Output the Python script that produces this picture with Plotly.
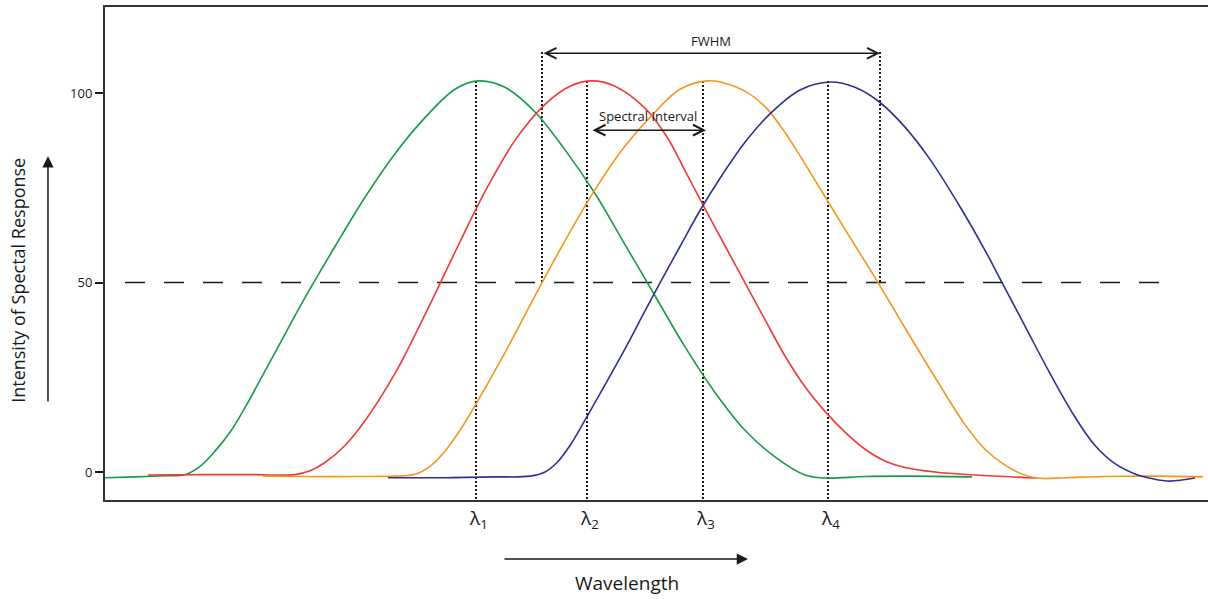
import plotly.graph_objects as go

# Spectral response curves (wavelength in arbitrary units, response in %)
green_x = [0, 30, 60, 80, 95, 110, 125, 140, 170, 200, 230, 260, 290, 320, 350, 373,
           400, 430, 460, 490, 520, 550, 580, 610, 640, 670, 700, 720, 760, 800, 867]
green_y = [-1.5, -1.3, -1.0, -0.7, 1.5, 5.5, 10.5, 17.0, 31.5, 46.0, 59.5, 72.5, 84.0, 93.5, 101.0, 103.2,
           101.5, 95.0, 85.0, 73.5, 60.0, 46.5, 33.0, 21.0, 11.0, 4.0, -0.8, -1.6, -1.2, -1.1, -1.3]

red_x = [43, 100, 150, 190, 205, 220, 240, 260, 290, 320, 350, 380, 410, 440, 465, 487,
         510, 540, 562, 580, 600, 620, 640, 660, 680, 700, 720, 740, 760, 780, 800, 830, 870, 932]
red_y = [-0.8, -0.7, -0.7, -0.7, 0.3, 2.5, 7.0, 13.5, 26.0, 41.5, 58.0, 74.0, 87.5, 97.0, 101.8, 103.2,
         101.8, 96.0, 88.4, 79.5, 69.5, 59.7, 49.9, 40.2, 30.6, 22.5, 16.0, 10.5, 6.0, 2.9, 1.2, 0.0, -0.8, -1.6]

orange_x = [158, 200, 250, 290, 310, 325, 340, 355, 370, 400, 430, 460, 490, 520, 550, 575, 602,
            620, 640, 660, 680, 700, 740, 770, 800, 830, 860, 880, 900, 915, 932, 960, 1000, 1048, 1098]
orange_y = [-1.1, -1.2, -1.2, -1.1, -0.6, 1.5, 5.5, 11.0, 17.5, 31.5, 46.5, 61.0, 74.5, 86.0, 95.0, 101.0, 103.2,
            102.6, 100.5, 96.4, 89.6, 81.3, 64.0, 51.3, 38.0, 25.0, 12.5, 6.0, 1.8, -0.3, -1.6, -1.5, -1.2, -1.1, -1.3]

blue_x = [283, 340, 390, 425, 440, 452, 465, 480, 500, 520, 540, 555, 575, 595, 615, 640, 665, 695, 725,
          750, 775, 800, 825, 855, 880, 897, 920, 945, 970, 990, 1010, 1030, 1048, 1065, 1090]
blue_y = [-1.5, -1.5, -1.3, -1.1, 0.0, 2.5, 7.0, 13.7, 23.0, 32.5, 42.5, 49.9, 59.5, 69.0, 77.5, 87.0, 94.5, 100.8, 102.9,
          101.5, 97.5, 91.0, 82.5, 70.0, 58.5, 50.0, 38.5, 26.0, 14.5, 7.0, 2.2, -0.5, -1.8, -2.4, -1.6]

# Peak wavelengths and their labels
peak_x = [371, 482, 598, 723]
peak_y = 103.2
peak_labels = ["λ<sub>1</sub>", "λ<sub>2</sub>", "λ<sub>3</sub>", "λ<sub>4</sub>"]

# Half-maximum level and the FWHM edges of the third band
half_level = 50
half_line_x = [20, 1070]
fwhm_x = [437, 775]

y_ticks = [0, 50, 100]
y_tick_text = ["0", "50", "100"]

X_RANGE = [0, 1103]
Y_RANGE = [-7.39, 122.7]
FONT = "Open Sans"
INK = "#1a1a1a"

fig = go.Figure()

# half-maximum dashed line
fig.add_trace(go.Scatter(x=half_line_x, y=[half_level, half_level], mode="lines",
                         line=dict(color=INK, width=1.5, dash="20px,19px"),
                         hoverinfo="skip", showlegend=False))

dotted = dict(color=INK, width=2, dash="2px,2px")

# dotted verticals at each peak
for px in peak_x:
    fig.add_trace(go.Scatter(x=[px, px], y=[peak_y, Y_RANGE[0]], mode="lines", line=dotted,
                             hoverinfo="skip", showlegend=False))

# dotted FWHM edges
for fx in fwhm_x:
    fig.add_trace(go.Scatter(x=[fx, fx], y=[110.8, half_level], mode="lines", line=dotted,
                             hoverinfo="skip", showlegend=False))

curves = [
    (green_x, green_y, "#179a48"),
    (red_x, red_y, "#ee3b35"),
    (orange_x, orange_y, "#f7941d"),
    (blue_x, blue_y, "#2e3192"),
]
for cx, cy, col in curves:
    fig.add_trace(go.Scatter(x=cx, y=cy, mode="lines",
                             line=dict(color=col, width=1.6, shape="spline", smoothing=1.0),
                             hoverinfo="skip", showlegend=False))

annotations = []

# peak labels under the axis
for px, lab in zip(peak_x, peak_labels):
    annotations.append(dict(x=px + 2, y=-0.0385, xref="x", yref="paper", text=lab, showarrow=False,
                            xanchor="center", yanchor="middle",
                            font=dict(family=FONT, size=19, color=INK)))

# FWHM double arrow and label
annotations.append(dict(x=fwhm_x[1], y=110.5, ax=fwhm_x[0], ay=110.5, xref="x", yref="y",
                        axref="x", ayref="y", text="", showarrow=True, arrowside="end+start",
                        arrowhead=5, startarrowhead=5, arrowsize=1.4, startarrowsize=1.4,
                        arrowwidth=1.5, arrowcolor=INK))
annotations.append(dict(x=(fwhm_x[0] + fwhm_x[1]) / 2, y=113.6, xref="x", yref="y", text="FWHM",
                        showarrow=False, xanchor="center", yanchor="middle",
                        font=dict(family=FONT, size=13, color=INK)))

# Spectral interval double arrow and label
annotations.append(dict(x=peak_x[2] + 3, y=90.2, ax=peak_x[1] + 4, ay=90.2, xref="x", yref="y",
                        axref="x", ayref="y", text="", showarrow=True, arrowside="end+start",
                        arrowhead=5, startarrowhead=5, arrowsize=1.4, startarrowsize=1.4,
                        arrowwidth=1.5, arrowcolor=INK))
annotations.append(dict(x=543, y=93.9, xref="x", yref="y", text="Spectral Interval",
                        showarrow=False, xanchor="center", yanchor="middle",
                        font=dict(family=FONT, size=13, color=INK)))

# Wavelength direction arrow and title
annotations.append(dict(x=643, y=-0.1197, ax=-245, ay=0, xref="x", yref="paper",
                        axref="pixel", ayref="pixel", text="", showarrow=True, arrowhead=2,
                        arrowsize=1.5, arrowwidth=1.5, arrowcolor=INK))
annotations.append(dict(x=522, y=-0.168, xref="x", yref="paper", text="Wavelength",
                        showarrow=False, xanchor="center", yanchor="middle",
                        font=dict(family=FONT, size=19, color=INK)))

# Intensity direction arrow and title
annotations.append(dict(x=-0.0517, y=83.3, ax=0, ay=18.2, xref="paper", yref="y",
                        axref="pixel", ayref="y", text="", showarrow=True, arrowhead=2,
                        arrowsize=1.5, arrowwidth=1.5, arrowcolor=INK))
annotations.append(dict(x=-0.0789, y=50.7, xref="paper", yref="y", text="Intensity of Spectal Response",
                        textangle=-90, showarrow=False, xanchor="center", yanchor="middle",
                        font=dict(family=FONT, size=18, color=INK)))

fig.update_layout(
    width=1208, height=599,
    margin=dict(l=105, r=0, t=7, b=99),
    paper_bgcolor="white", plot_bgcolor="white",
    annotations=annotations,
    xaxis=dict(range=X_RANGE, showgrid=False, zeroline=False, showticklabels=False,
               showline=True, linecolor="#333333", linewidth=2, mirror=True, ticks=""),
    yaxis=dict(range=Y_RANGE, showgrid=False, zeroline=False, tickvals=y_ticks,
               ticktext=y_tick_text, ticks="outside", ticklen=8, tickwidth=1.5,
               tickcolor=INK, showline=True, linecolor="#333333", linewidth=2,
               tickfont=dict(family=FONT, size=13, color=INK)),
)

fig.write_html("out.html")
